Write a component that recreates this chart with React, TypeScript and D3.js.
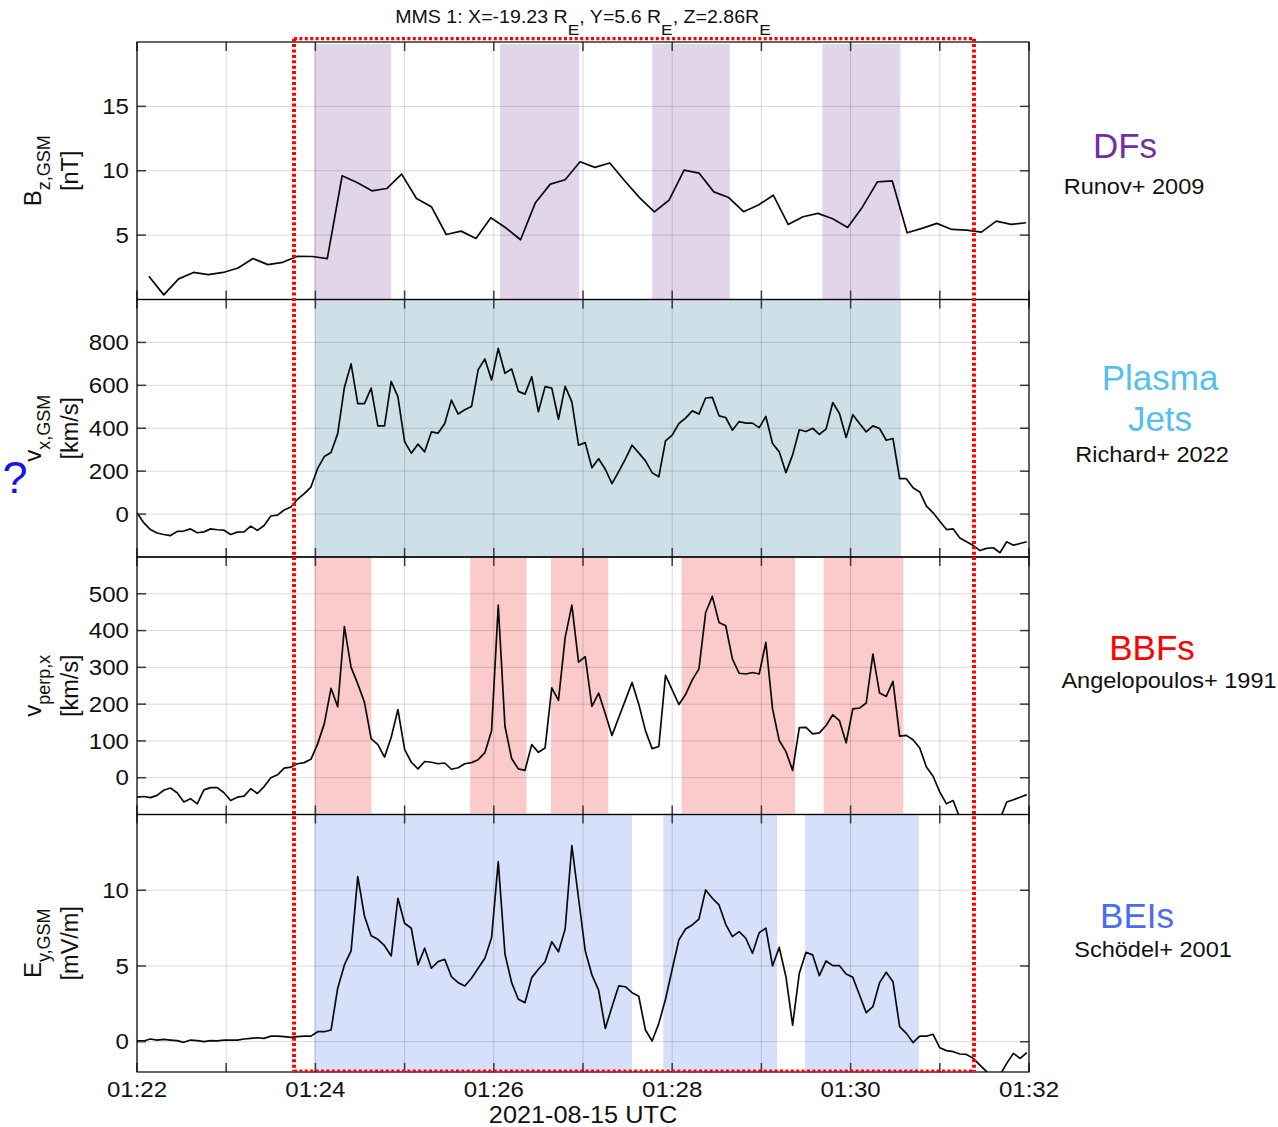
import React from 'react';
import * as d3 from 'd3';

// ---------- DATA ----------
const startUTC = Date.UTC(2021, 7, 15, 1, 22, 0);
const endUTC = Date.UTC(2021, 7, 15, 1, 32, 0);

// Bz (FGM, 10 s cadence, first sample at 01:22:08)
const bzStartSec = 8;
const bzCadenceSec = 10;
const bzValues = [
  1.8, 0.36, 1.6, 2.1, 1.93, 2.1, 2.45, 3.18, 2.71, 2.89,
  3.36, 3.34, 3.18, 9.61, 9.09, 8.44, 8.62, 9.74, 7.84, 7.21,
  5.05, 5.31, 4.74, 6.35, 5.57, 4.64, 7.52, 8.96, 9.3, 10.7,
  10.26, 10.6, 9.22, 7.91, 6.8, 7.73, 10.05, 9.82, 8.36, 7.92,
  6.82, 7.34, 8.1, 5.83, 6.43, 6.69, 6.27, 5.6, 7.19, 9.14,
  9.22, 5.18, 5.52, 5.91, 5.44, 5.39, 5.23, 6.09, 5.83, 5.96,
];

// FPI / EDP (4.5 s cadence, first sample at 01:22:00)
const fpiCadenceSec = 4.5;
const vxValues = [
  6, -40, -72, -88, -95, -100, -81, -79, -69, -87,
  -83, -69, -73, -75, -95, -84, -83, -56, -76, -53,
  -9, -5, 19, 33, 69, 95, 126, 213, 268, 287,
  375, 590, 700, 515, 515, 587, 411, 411, 618, 547,
  338, 284, 326, 290, 383, 377, 422, 531, 466, 486,
  501, 673, 723, 625, 772, 656, 676, 572, 559, 640,
  477, 594, 587, 442, 595, 523, 321, 333, 216, 258,
  209, 142, 198, 256, 321, 285, 248, 193, 174, 341,
  368, 422, 447, 481, 466, 541, 544, 458, 450, 391,
  431, 424, 424, 403, 455, 329, 290, 193, 276, 393,
  385, 400, 372, 396, 520, 469, 357, 463, 422, 383,
  411, 399, 344, 352, 165, 165, 123, 103, 37, 6,
  -33, -72, -69, -111, -129, -146, -170, -160, -157, -180,
  -129, -145, -137, -129,
];
const vperpValues = [
  -53, -51, -54, -48, -34, -28, -41, -66, -57, -71,
  -33, -27, -27, -41, -62, -53, -50, -30, -43, -24,
  0, 8, 26, 29, 38, 41, 50, 92, 147, 243,
  193, 411, 300, 255, 205, 106, 90, 56, 110, 185,
  77, 42, 24, 44, 42, 38, 40, 23, 27, 38,
  41, 49, 68, 128, 469, 140, 52, 24, 20, 90,
  69, 81, 244, 210, 381, 469, 314, 329, 194, 230,
  174, 115, 163, 211, 259, 200, 128, 79, 85, 278,
  239, 199, 226, 266, 296, 449, 493, 422, 413, 323,
  284, 282, 286, 282, 368, 187, 101, 71, 20, 136,
  137, 119, 122, 142, 171, 155, 95, 187, 189, 203,
  336, 230, 221, 262, 113, 115, 103, 81, 29, 4,
  -39, -71, -62, -110, -130, -150, -160, -150, -140, -112,
  -66, -60, -53, -46,
];
const eyValues = [
  0.05, 0.05, 0.18, 0.11, 0.15, 0.11, 0.07, -0.04, 0.11, 0.07,
  0.0, 0.07, 0.05, 0.11, 0.11, 0.11, 0.18, 0.22, 0.26, 0.22,
  0.37, 0.37, 0.33, 0.29, 0.33, 0.37, 0.37, 0.66, 0.66, 0.77,
  3.53, 5.07, 5.99, 10.9, 8.3, 7.0, 6.76, 6.34, 5.66, 9.47,
  7.82, 7.49, 5.07, 6.17, 4.85, 5.29, 5.44, 4.29, 3.9, 3.68,
  4.19, 4.85, 5.51, 6.87, 11.89, 5.79, 3.9, 2.8, 2.58, 4.23,
  4.78, 5.28, 6.6, 5.94, 7.44, 12.95, 9.47, 6.01, 4.41, 3.41,
  0.88, 2.31, 3.68, 3.63, 3.24, 3.0, 0.77, 0.05, 1.21, 2.8,
  4.78, 6.72, 7.44, 7.71, 8.1, 10.02, 9.47, 9.03, 7.75, 6.94,
  7.27, 6.83, 5.84, 7.2, 7.49, 5.0, 6.23, 4.29, 1.1, 4.52,
  5.9, 5.73, 4.36, 5.33, 5.02, 5.02, 4.47, 4.25, 3.08, 1.92,
  2.31, 3.9, 4.58, 3.96, 0.99, 0.55, -0.06, 0.37, 0.37, 0.49,
  -0.4, -0.59, -0.66, -0.81, -0.84, -1.1, -1.54, -1.98, -2.5, -2.2,
  -1.43, -0.77, -1.1, -0.73,
];

// Y axis domains / ticks
const bzDomain = [0, 20];
const bzTicks = [5, 10, 15];
const vxDomain = [-200, 1000];
const vxTicks = [0, 200, 400, 600, 800];
const vperpDomain = [-100, 600];
const vperpTicks = [0, 100, 200, 300, 400, 500];
const eyDomain = [-2, 15];
const eyTicks = [0, 5, 10];

// Highlighted intervals (minutes after 01:22 UTC)
const dfIntervals = [[1.984, 2.848], [4.07, 4.96], [5.776, 6.646], [7.684, 8.558]];
const jetIntervals = [[1.99, 8.565]];
const bbfIntervals = [[1.988, 2.628], [3.735, 4.367], [4.641, 5.283], [6.105, 7.378], [7.698, 8.591]];
const beiIntervals = [[1.984, 5.549], [5.9, 7.176], [7.488, 8.765]];

// Dotted selection window (minutes after 01:22 UTC)
const windowStartMin = 1.76;
const windowEndMin = 9.383;

// ---------- LAYOUT ----------
const W = 1278;
const H = 1127;
const plotLeft = 137;
const plotRight = 1029;
const plotTop = 42;
const panelH = 257.5;
const FONT = 'Liberation Sans, Arial, Helvetica, sans-serif';
const SX = 1.12; // horizontal stretch of the reference's horizontal texts

const minToDate = (m: number) => new Date(startUTC + m * 60000);
const xScale = d3.scaleUtc().domain([new Date(startUTC), new Date(endUTC)]).range([plotLeft, plotRight]);

const series = (values: number[], t0Sec: number, stepSec: number): [Date, number][] =>
  values.map((v, i) => [new Date(startUTC + (t0Sec + i * stepSec) * 1000), v]);

const panels = [
  {
    key: 'bz', domain: bzDomain, ticks: bzTicks, data: series(bzValues, bzStartSec, bzCadenceSec),
    main: 'B', sub: 'z,GSM', unit: '[nT]',
    shade: { intervals: dfIntervals, color: '#e1d5ea', y0off: 2, y1off: 3 },
  },
  {
    key: 'vx', domain: vxDomain, ticks: vxTicks, data: series(vxValues, 0, fpiCadenceSec),
    main: 'v', sub: 'x,GSM', unit: '[km/s]',
    shade: { intervals: jetIntervals, color: '#cddfe7', y0off: 0, y1off: 0 },
  },
  {
    key: 'vperp', domain: vperpDomain, ticks: vperpTicks, data: series(vperpValues, 0, fpiCadenceSec),
    main: 'v', sub: 'perp,x', unit: '[km/s]',
    shade: { intervals: bbfIntervals, color: '#fbcaca', y0off: 0, y1off: -1 },
  },
  {
    key: 'ey', domain: eyDomain, ticks: eyTicks, data: series(eyValues, 0, fpiCadenceSec),
    main: 'E', sub: 'y,GSM', unit: '[mV/m]',
    shade: { intervals: beiIntervals, color: '#d6e0fb', y0off: 0, y1off: 0 },
  },
];

const annotations = [
  { title: ['DFs'], color: '#7030a0', ref: 'Runov+ 2009', tx: 1125, ty: [158], rx: 1134, ry: 194 },
  { title: ['Plasma', 'Jets'], color: '#56c0ec', ref: 'Richard+ 2022', tx: 1160, ty: [390, 431], rx: 1152, ry: 462 },
  { title: ['BBFs'], color: '#ff0000', ref: 'Angelopoulos+ 1991', tx: 1152, ty: [660], rx: 1169, ry: 688 },
  { title: ['BEIs'], color: '#4a6cf2', ref: 'Schödel+ 2001', tx: 1137, ty: [928], rx: 1153, ry: 957 },
];

function SText({ x, y, sx = SX, children, ...rest }: any) {
  return (
    <g transform={`translate(${x}, ${y}) scale(${sx}, 1)`}>
      <text x={0} y={0} {...rest}>{children}</text>
    </g>
  );
}

export default function App() {
  const minuteTicks = d3.utcMinute.range(new Date(startUTC), new Date(endUTC + 1));
  const fmt = d3.utcFormat('%H:%M');
  const tickLen = 9;

  const panelInfo = panels.map((p, k) => {
    const y0 = plotTop + k * panelH;
    const y1 = y0 + panelH;
    const yScale = d3.scaleLinear().domain(p.domain).range([y1, y0]);
    const line = d3.line<[Date, number]>().x(d => xScale(d[0])).y(d => yScale(d[1]));
    return { ...p, y0, y1, yScale, path: line(p.data) || '' };
  });

  const wx0 = xScale(minToDate(windowStartMin));
  const wx1 = xScale(minToDate(windowEndMin));
  const wy0 = 38.7;
  const wy1 = 1071;

  return (
    <svg width={W} height={H} viewBox={`0 0 ${W} ${H}`} style={{ display: 'block', position: 'absolute', left: 0, top: 0, background: '#fff' }} fontFamily={FONT}>
      <rect x={0} y={0} width={W} height={H} fill="#fff" />
      <defs>
        {panelInfo.map(p => (
          <clipPath id={`clip-${p.key}`} key={p.key}>
            <rect x={plotLeft} y={p.y0} width={plotRight - plotLeft} height={panelH} />
          </clipPath>
        ))}
      </defs>

      {/* shading: jets first, then others */}
      {[1, 2, 3, 0].map(k => {
        const p = panelInfo[k];
        return (
          <g key={`shade-${p.key}`}>
            {p.shade.intervals.map((iv, j) => {
              const a = xScale(minToDate(iv[0]));
              const b = xScale(minToDate(iv[1]));
              return (
                <rect key={j} x={a} y={p.y0 + p.shade.y0off} width={b - a}
                  height={panelH - p.shade.y0off + p.shade.y1off} fill={p.shade.color} />
              );
            })}
          </g>
        );
      })}

      {/* gridlines */}
      {panelInfo.map(p => (
        <g key={`grid-${p.key}`} stroke="#000" strokeOpacity={0.15} strokeWidth={1}>
          {minuteTicks.map((t, i) => (
            <line key={`v${i}`} x1={xScale(t)} x2={xScale(t)} y1={p.y0} y2={p.y1} />
          ))}
          {p.ticks.map(v => (
            <line key={`h${v}`} x1={plotLeft} x2={plotRight} y1={p.yScale(v)} y2={p.yScale(v)} />
          ))}
        </g>
      ))}

      {/* data lines */}
      {panelInfo.map(p => (
        <path key={`line-${p.key}`} d={p.path} fill="none" stroke="#0a0a0a" strokeWidth={1.7}
          strokeLinejoin="round" clipPath={`url(#clip-${p.key})`} />
      ))}

      {/* frames and ticks */}
      {panelInfo.map(p => (
        <g key={`frame-${p.key}`}>
          <g stroke="#3a3a3a" strokeWidth={1.5}>
            {minuteTicks.map((t, i) => (
              <g key={i}>
                <line x1={xScale(t)} x2={xScale(t)} y1={p.y0} y2={p.y0 + tickLen} />
                <line x1={xScale(t)} x2={xScale(t)} y1={p.y1} y2={p.y1 - tickLen} />
              </g>
            ))}
            {p.ticks.map(v => (
              <g key={v}>
                <line x1={plotLeft} x2={plotLeft + tickLen} y1={p.yScale(v)} y2={p.yScale(v)} />
                <line x1={plotRight} x2={plotRight - tickLen} y1={p.yScale(v)} y2={p.yScale(v)} />
              </g>
            ))}
          </g>
          <rect x={plotLeft} y={p.y0} width={plotRight - plotLeft} height={panelH} fill="none" stroke="#000" strokeWidth={1.2} />
          {p.ticks.map(v => (
            <SText key={`tl${v}`} x={129} y={p.yScale(v)} dy="0.36em" textAnchor="end" fontSize={21.5} fill="#111">{v}</SText>
          ))}
          <text transform={`translate(41, ${(p.y0 + p.y1) / 2}) rotate(-90)`} textAnchor="middle" fontSize={24} fill="#111">
            {p.main}
            <tspan fontSize={18} dy={9}>{p.sub}</tspan>
          </text>
          <text transform={`translate(78, ${(p.y0 + p.y1) / 2}) rotate(-90)`} textAnchor="middle" fontSize={23.5} fill="#111">
            {p.unit}
          </text>
        </g>
      ))}

      {/* x tick labels */}
      {minuteTicks.filter(t => t.getUTCMinutes() % 2 === 0).map((t, i) => (
        <SText key={`xl${i}`} x={xScale(t)} y={1097} textAnchor="middle" fontSize={21.5} fill="#111">{fmt(t)}</SText>
      ))}
      <SText x={(plotLeft + plotRight) / 2} y={1123} sx={1.1} textAnchor="middle" fontSize={23} fill="#111">2021-08-15 UTC</SText>

      {/* title */}
      <SText x={(plotLeft + plotRight) / 2} y={22.7} textAnchor="middle" fontSize={17.5} fill="#111">
        MMS 1: X=-19.23 R<tspan fontSize={15.5} dy={12}>E</tspan>
        <tspan dy={-12}>, Y=5.6 R</tspan><tspan fontSize={15.5} dy={12}>E</tspan>
        <tspan dy={-12}>, Z=2.86R</tspan><tspan fontSize={15.5} dy={12}>E</tspan>
      </SText>

      {/* dotted selection window */}
      <g stroke="#ff0000" fill="none" strokeDasharray="3 2.4">
        <line x1={wx0} x2={wx1} y1={wy0} y2={wy0} strokeWidth={3.2} />
        <line x1={wx0} x2={wx1} y1={wy1} y2={wy1} strokeWidth={3.2} />
        <line x1={wx0} x2={wx0} y1={wy0} y2={wy1} strokeWidth={4} />
        <line x1={wx1} x2={wx1} y1={wy0} y2={wy1} strokeWidth={4} />
      </g>

      {/* question mark */}
      <text x={15} y={493} textAnchor="middle" fontSize={45} fill="#1414f0">?</text>

      {/* right-side annotations */}
      {annotations.map((a, i) => (
        <g key={`ann${i}`}>
          {a.title.map((t, j) => (
            <text key={j} x={a.tx} y={a.ty[j]} textAnchor="middle" fontSize={35} fill={a.color}>{t}</text>
          ))}
          <SText x={a.rx} y={a.ry} sx={1.07} textAnchor="middle" fontSize={22} fill="#111">{a.ref}</SText>
        </g>
      ))}
    </svg>
  );
}
